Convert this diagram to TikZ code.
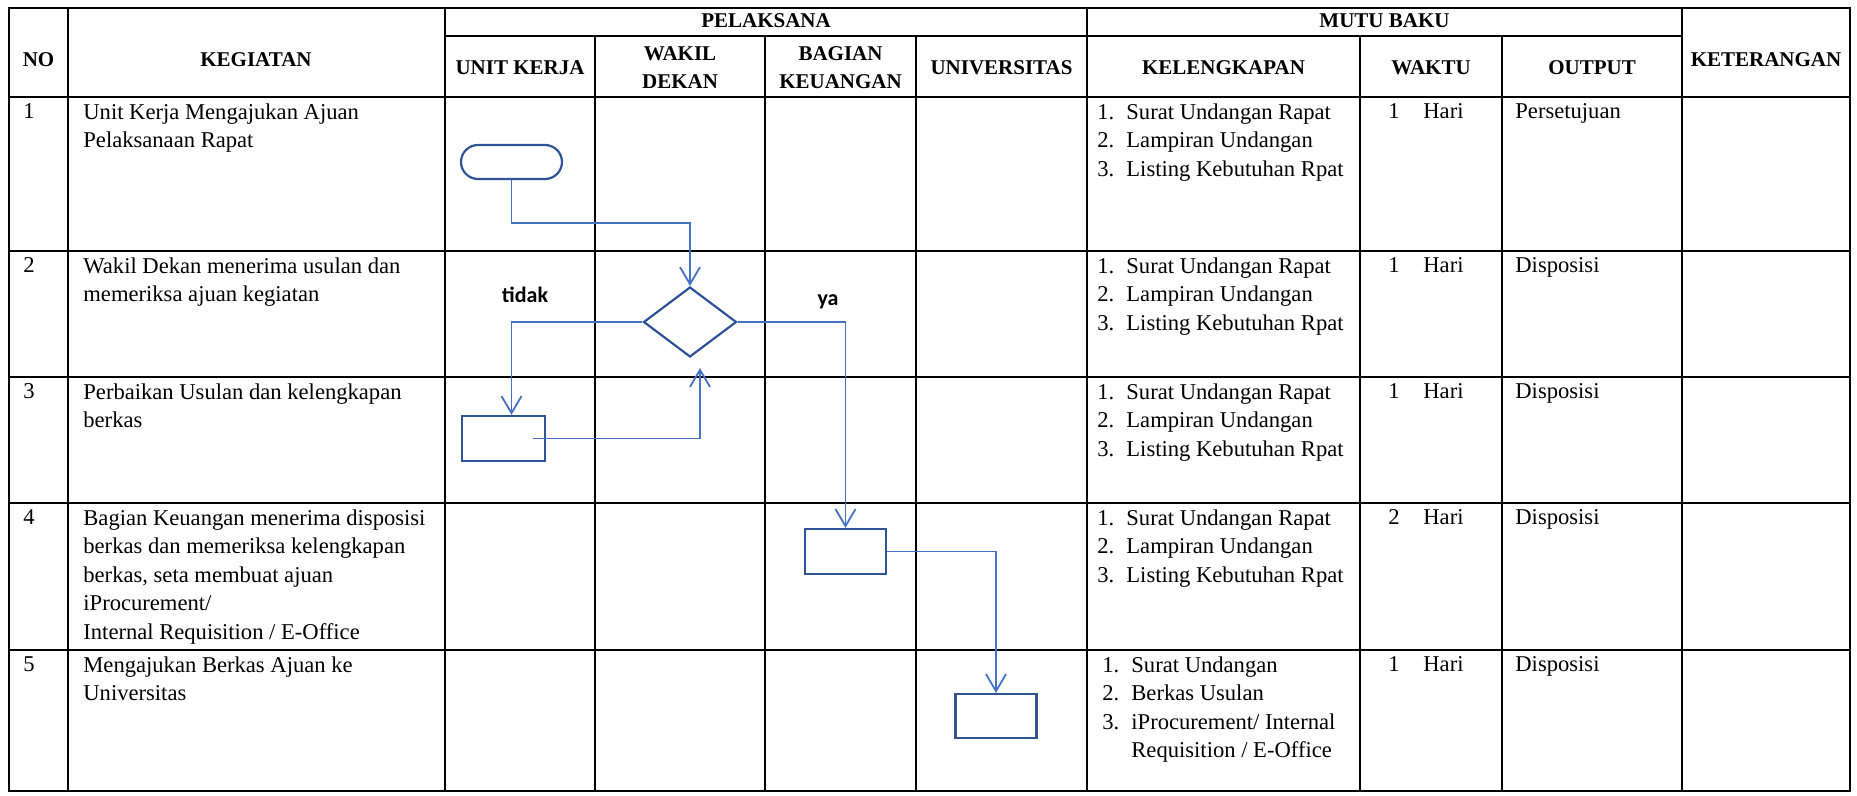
\documentclass[tikz,border=0pt]{standalone}
\usepackage{fontspec}
\setmainfont{Liberation Serif}
\newfontfamily\labelfont{Carlito}
\usetikzlibrary{arrows.meta}
\usetikzlibrary{calc}
\usetikzlibrary{shapes.geometric}

\definecolor{flowline}{HTML}{4472C4}
\definecolor{flowedge}{HTML}{2F5597}

\newcommand{\itm}[2]{\makebox[14.5pt][l]{#1}#2}
\newcommand{\hari}[1]{\makebox[17.5pt][l]{#1}Hari}
\newcommand{\rapatlist}{\itm{1.}{Surat Undangan Rapat}\\\itm{2.}{Lampiran Undangan}\\\itm{3.}{Listing Kebutuhan Rpat}}

\tikzset{
  tableline/.style={draw=black, line width=1.3pt, line cap=rect},
  head/.style={font=\fontsize{10.5}{14}\selectfont\bfseries, align=center, inner sep=0pt},
  cell/.style={font=\fontsize{11.3}{14.3}\selectfont, anchor=north west, inner sep=0pt, align=left},
  proc/.style={draw=flowedge, line width=1.1pt, minimum width=41.5pt, minimum height=22.5pt, inner sep=0pt},
  flow/.style={draw=flowline, line width=0.9pt, arrows={-Straight Barb[length=8.5pt,width=10pt]}},
  tag/.style={font=\labelfont\bfseries\fontsize{11}{13}\selectfont, inner sep=0pt}
}

\begin{document}
\begin{tikzpicture}[x=0.5pt, y=-0.5pt]
  \useasboundingbox (0,0) rectangle (1857,796);
  % table
  \foreach \y in {8,97,251,377,503,650,791}
    \draw[tableline] (9,\y) -- (1850,\y);
  \draw[tableline] (445,36) -- (1682,36);
  \foreach \x in {9,68,445,1087,1682,1850}
    \draw[tableline] (\x,8) -- (\x,791);
  \foreach \x in {595,765,916,1360,1502}
    \draw[tableline] (\x,36) -- (\x,791);

  % headers
  \node[head] (hno) at (38.5,60) {NO};
  \node[head] (hkeg) at (256,60) {KEGIATAN};
  \node[head] (hpel) at (766,21) {PELAKSANA};
  \node[head] (hmutu) at (1384.5,21) {MUTU BAKU};
  \node[head] (hket) at (1766,60) {KETERANGAN};
  \node[head] (hunit) at (520,68) {UNIT KERJA};
  \node[head] (hwakil) at (680,68) {WAKIL\\DEKAN};
  \node[head] (hbag) at (840.5,68) {BAGIAN\\KEUANGAN};
  \node[head] (huniv) at (1001.5,68) {UNIVERSITAS};
  \node[head] (hkel) at (1223.5,68) {KELENGKAPAN};
  \node[head] (hwaktu) at (1431,68) {WAKTU};
  \node[head] (hout) at (1592,68) {OUTPUT};

  % rows
  \foreach \n/\y in {1/103,2/257,3/383,4/509,5/656}
    \node[cell] (no\n) at (23,\y) {\n};
  \node[cell] (keg1) at (83,103) {Unit Kerja Mengajukan Ajuan\\Pelaksanaan Rapat};
  \node[cell] (keg2) at (83,257) {Wakil Dekan menerima usulan dan\\memeriksa ajuan kegiatan};
  \node[cell] (keg3) at (83,383) {Perbaikan Usulan dan kelengkapan\\berkas};
  \node[cell] (keg4) at (83,509) {Bagian Keuangan menerima disposisi\\berkas dan memeriksa kelengkapan\\berkas, seta membuat ajuan\\iProcurement/\\Internal Requisition / E-Office};
  \node[cell] (keg5) at (83,656) {Mengajukan Berkas Ajuan ke\\Universitas};

  \node[cell] (kel1) at (1097,103) {\rapatlist};
  \node[cell] (kel2) at (1097,257) {\rapatlist};
  \node[cell] (kel3) at (1097,383) {\rapatlist};
  \node[cell] (kel4) at (1097,509) {\rapatlist};
  \node[cell] (kel5) at (1102,656) {\itm{1.}{Surat Undangan}\\\itm{2.}{Berkas Usulan}\\\itm{3.}{iProcurement/ Internal}\\\itm{}{Requisition / E-Office}};

  \node[cell] (wkt1) at (1388,103) {\hari{1}};
  \node[cell] (wkt2) at (1388,257) {\hari{1}};
  \node[cell] (wkt3) at (1388,383) {\hari{1}};
  \node[cell] (wkt4) at (1388,509) {\hari{2}};
  \node[cell] (wkt5) at (1388,656) {\hari{1}};

  \node[cell] (out1) at (1515,103) {Persetujuan};
  \node[cell] (out2) at (1515,257) {Disposisi};
  \node[cell] (out3) at (1515,383) {Disposisi};
  \node[cell] (out4) at (1515,509) {Disposisi};
  \node[cell] (out5) at (1515,656) {Disposisi};

  % flow
  \node[draw=flowedge, line width=1.1pt, rounded corners=8.5pt, minimum width=50.5pt, minimum height=17pt, inner sep=0pt] (start) at (511.5,162) {};
  \node[draw=flowedge, line width=1.1pt, diamond, minimum width=46.5pt, minimum height=35pt, inner sep=0pt] (cek) at (690,322) {};
  \node[proc] (box3) at (503.5,438.5) {};
  \node[proc, minimum width=40.5pt] (box4) at (845.5,551.5) {};
  \node[proc, minimum width=40.5pt, minimum height=22pt] (box5) at (996,716) {};
  \node[tag] (tidak) at (525,295) {tidak};
  \node[tag] (ya) at (828,302) {ya};
  \coordinate (back) at ($(cek.south)+(10,10)$);

  \draw[flow] (start.south) -- ++(0,43) -| (cek.north);
  \draw[flow] (cek.west) -| (start.south |- box3.north);
  \draw[flow] ($(box3.center)+(29.5,0)$) -| (back);
  \draw[flow] (cek.east) -| (box4.north);
  \draw[flow] (box4.east) -| (box5.north);
\end{tikzpicture}
\end{document}
